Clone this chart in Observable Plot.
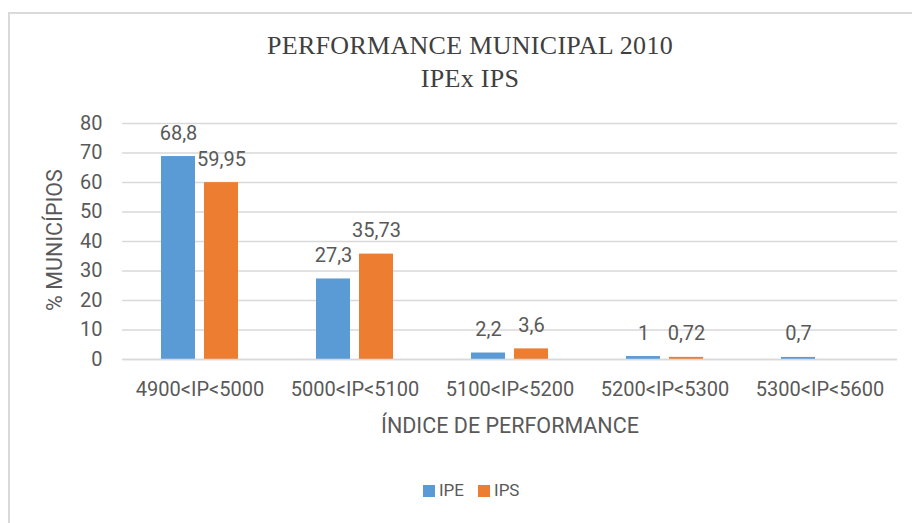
<!DOCTYPE html>
<html>
<head>
<meta charset="utf-8">
<script src="https://cdn.jsdelivr.net/npm/d3@7"></script>
<script src="https://cdn.jsdelivr.net/npm/@observablehq/plot@0.6"></script>
<style>
  html, body { margin: 0; padding: 0; background: #fff; overflow: hidden; }
  body { width: 912px; height: 523px; position: relative; font-family: Roboto, "Liberation Sans", sans-serif; color: #595959; }
  #frame { position: absolute; left: 8px; top: 12px; width: 1000px; height: 600px; border: 2px solid #dadada; box-sizing: border-box; }
  #title { position: absolute; left: 14px; top: 29px; width: 912px; text-align: center; font-family: "Liberation Serif", "Times New Roman", serif; font-size: 26px; line-height: 33px; letter-spacing: 0.3px; color: #404040; }
  #chart { position: absolute; left: 0; top: 100px; }
  #xlabel { position: absolute; left: 310px; width: 400px; top: 415px; text-align: center; font-size: 21.5px; line-height: 1; }
  #ylabel { position: absolute; left: -45px; width: 200px; top: 229px; text-align: center; font-size: 21.5px; line-height: 1; transform: rotate(-90deg); transform-origin: 100px 11px; }
  #legend { position: absolute; left: 423px; top: 482px; display: flex; align-items: center; font-size: 17px; line-height: 1; }
  .sw { width: 12px; height: 12px; display: inline-block; margin-right: 4px; }
  .item { display: flex; align-items: center; margin-right: 14px; }
</style>
</head>
<body>
<div id="frame"></div>
<div id="title">PERFORMANCE MUNICIPAL 2010<br>IPEx IPS</div>
<div id="chart"></div>
<div id="ylabel"></div>
<div id="xlabel"></div>
<div id="legend"></div>
<script>
const categories = ["4900<IP<5000", "5000<IP<5100", "5100<IP<5200", "5200<IP<5300", "5300<IP<5600"];
const series = ["IPE", "IPS"];
const ipe = [68.8, 27.3, 2.2, 1, 0.7];
const ips = [59.95, 35.73, 3.6, 0.72, null];
const yTicks = [0, 10, 20, 30, 40, 50, 60, 70, 80];
const colors = ["#5b9bd5", "#ed7d31"];
const yTitle = "% MUNICÍPIOS";
const xTitle = "ÍNDICE DE PERFORMANCE";

const data = categories.flatMap((c, i) => [
  {cat: c, series: "IPE", value: ipe[i]},
  {cat: c, series: "IPS", value: ips[i]}
]).filter(d => d.value != null);

const chart = Plot.plot({
  width: 912,
  height: 360,
  marginTop: 23,
  marginBottom: 101,
  marginLeft: 122,
  marginRight: 15,
  style: {fontFamily: "Roboto, 'Liberation Sans', sans-serif", color: "#595959", background: "transparent", overflow: "visible"},
  fx: {domain: categories, padding: 0, label: null, axis: null},
  x: {domain: series, paddingInner: 0.207, paddingOuter: 0.897, axis: null},
  y: {domain: [0, 80], label: null, axis: null},
  color: {domain: series, range: colors},
  marks: [
    Plot.gridY(yTicks, {stroke: "#d9d9d9", strokeOpacity: 1, strokeWidth: 1.3}),
    Plot.axisY(yTicks, {tickSize: 0, tickPadding: 20, fontSize: 20, label: null}),
    Plot.axisFx({anchor: "bottom", tickSize: 0, tickPadding: 22, fontSize: 20, label: null}),
    Plot.barY(data, {fx: "cat", x: "series", y: "value", fill: "series"}),
    Plot.ruleY([0], {stroke: "#d9d9d9", strokeWidth: 1.6}),
    Plot.text(data, {fx: "cat", x: "series", y: "value", text: d => String(d.value).replace(".", ","), dy: -23.4, fontSize: 20, fill: "#595959"})
  ]
});
document.getElementById("chart").appendChild(chart);
document.getElementById("ylabel").textContent = yTitle;
document.getElementById("xlabel").textContent = xTitle;
const legend = document.getElementById("legend");
series.forEach((s, i) => {
  const item = document.createElement("span");
  item.className = "item";
  const sw = document.createElement("span");
  sw.className = "sw";
  sw.style.background = colors[i];
  item.appendChild(sw);
  item.appendChild(document.createTextNode(s));
  legend.appendChild(item);
});
</script>
</body>
</html>
